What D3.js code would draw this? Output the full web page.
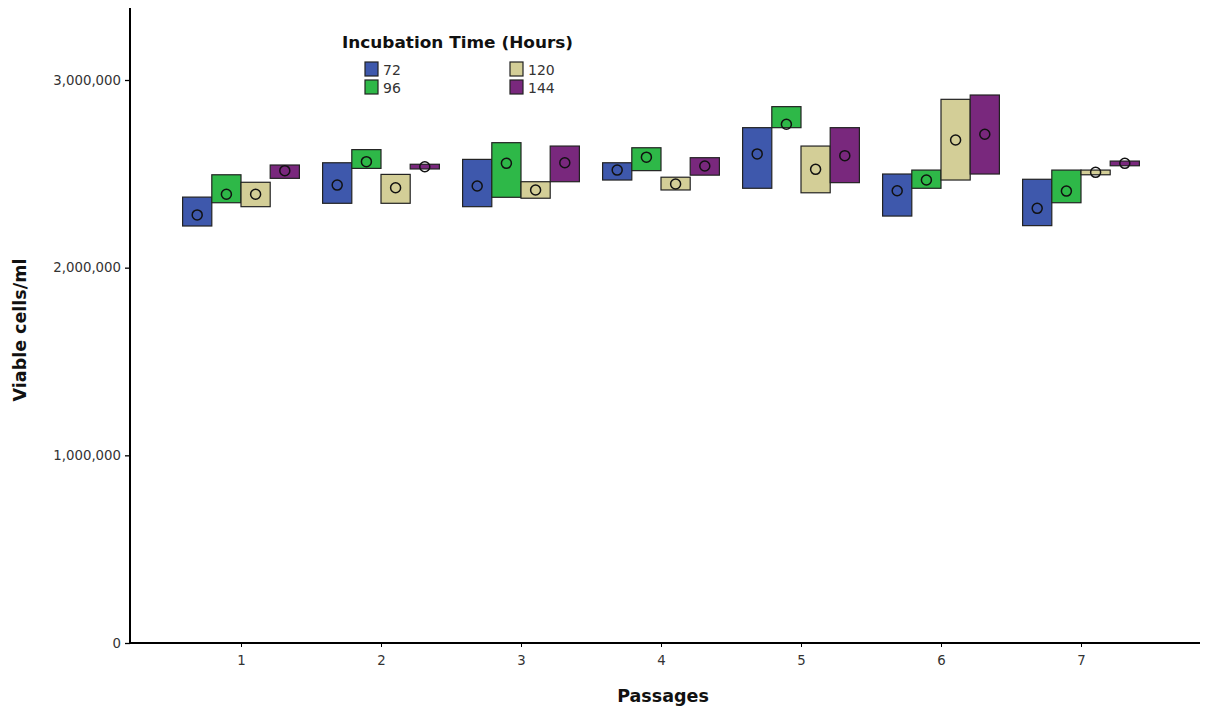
<!DOCTYPE html>
<html><head><meta charset="utf-8">
<script src="https://cdn.jsdelivr.net/npm/d3@7"></script>
<style>body{margin:0;background:#fff}svg{display:block}</style>
</head><body>
<script>
const passages = [1,2,3,4,5,6,7];
const seriesNames = ["72","96","120","144"];
const seriesColors = ["#3E58AC","#2EB848","#D3CE97","#79287D"];
// low, high, mean per passage for each incubation time
const low72  = [2222000,2343000,2325000,2467000,2423000,2275000,2224000];
const high72 = [2376000,2559000,2577000,2559000,2746000,2499000,2471000];
const mean72 = [2281000,2440000,2435000,2520000,2606000,2410000,2316000];
const low96  = [2346000,2529000,2375000,2517000,2746000,2423000,2346000];
const high96 = [2495000,2629000,2666000,2639000,2858000,2520000,2520000];
const mean96 = [2391000,2565000,2556000,2589000,2764000,2467000,2408000];
const low120  = [2325000,2343000,2370000,2414000,2399000,2467000,2495000];
const high120 = [2455000,2497000,2458000,2482000,2648000,2897000,2520000];
const mean120 = [2391000,2426000,2414000,2446000,2524000,2680000,2508000];
const low144  = [2476000,2526000,2458000,2493000,2453000,2499000,2543000];
const high144 = [2547000,2551000,2648000,2586000,2746000,2920000,2568000];
const mean144 = [2517000,2538000,2559000,2542000,2597000,2711000,2556000];
const yTicks = [0,1000000,2000000,3000000];

const lows=[low72,low96,low120,low144], highs=[high72,high96,high120,high144], means=[mean72,mean96,mean120,mean144];

const W=1217,H=708;
const svg=d3.select("body").append("svg").attr("width",W).attr("height",H);
const y=d3.scaleLinear().domain([0,3000000]).range([643,80]);
const x=d3.scaleLinear().domain([1,7]).range([241,1081]);
const bw=29.2;

// axes
const yAx=svg.append("g").attr("transform","translate(130,0)")
  .call(d3.axisLeft(y).tickValues(yTicks).tickFormat(d3.format(",")).tickSize(5).tickSizeOuter(0));
yAx.select(".domain").remove();
yAx.selectAll("line").attr("stroke","#000").attr("stroke-width",1.3);
yAx.selectAll("text").attr("font-family","DejaVu Sans").attr("font-size",13.3).attr("fill","#333").attr("dx",-1);
svg.append("line").attr("x1",130).attr("x2",130).attr("y1",8).attr("y2",643.5).attr("stroke","#000").attr("stroke-width",2);

const xAx=svg.append("g").attr("transform","translate(0,643)")
  .call(d3.axisBottom(x).tickValues(passages).tickFormat(d3.format("d")).tickSize(4).tickSizeOuter(0));
xAx.select(".domain").remove();
xAx.selectAll("line").attr("stroke","#000");
xAx.selectAll("text").attr("font-family","DejaVu Sans").attr("font-size",13.3).attr("fill","#333").attr("dy","1.15em");
svg.append("line").attr("x1",129).attr("x2",1200).attr("y1",643).attr("y2",643).attr("stroke","#000").attr("stroke-width",2);

// bars
seriesNames.forEach((s,k)=>{
  const g=svg.append("g");
  g.selectAll("rect").data(passages).enter().append("rect")
    .attr("x",(d,i)=>x(d)-2*bw+k*bw)
    .attr("y",(d,i)=>y(highs[k][i]))
    .attr("width",bw)
    .attr("height",(d,i)=>y(lows[k][i])-y(highs[k][i]))
    .attr("fill",seriesColors[k]).attr("stroke","#222").attr("stroke-width",1.2);
  g.selectAll("circle").data(passages).enter().append("circle")
    .attr("cx",(d,i)=>x(d)-2*bw+k*bw+bw/2)
    .attr("cy",(d,i)=>y(means[k][i]))
    .attr("r",5).attr("fill","none").attr("stroke","#111").attr("stroke-width",1.5);
});

// axis titles
svg.append("text").attr("x",663).attr("y",702).attr("text-anchor","middle")
  .attr("font-family","DejaVu Sans").attr("font-weight","bold").attr("font-size",17.5).attr("fill","#111").text("Passages");
svg.append("text").attr("transform","translate(26,330) rotate(-90)").attr("text-anchor","middle")
  .attr("font-family","DejaVu Sans").attr("font-weight","bold").attr("font-size",17.5).attr("fill","#111").text("Viable cells/ml");

// legend
svg.append("text").attr("x",342).attr("y",48).attr("font-family","DejaVu Sans").attr("font-weight","bold")
  .attr("font-size",16).attr("fill","#111").attr("textLength",231).attr("lengthAdjust","spacingAndGlyphs").text("Incubation Time (Hours)");
const legPos=[[365,62],[365,80],[510,62],[510,80]];
seriesNames.forEach((s,k)=>{
  const [lx,ly]=legPos[k];
  svg.append("rect").attr("x",lx).attr("y",ly).attr("width",13).attr("height",14)
    .attr("fill",seriesColors[k]).attr("stroke","#222").attr("stroke-width",1.2);
  svg.append("text").attr("x",lx+18).attr("y",ly+12.5).attr("font-family","DejaVu Sans").attr("font-size",14)
    .attr("fill","#333").text(s);
});
</script>
</body></html>
